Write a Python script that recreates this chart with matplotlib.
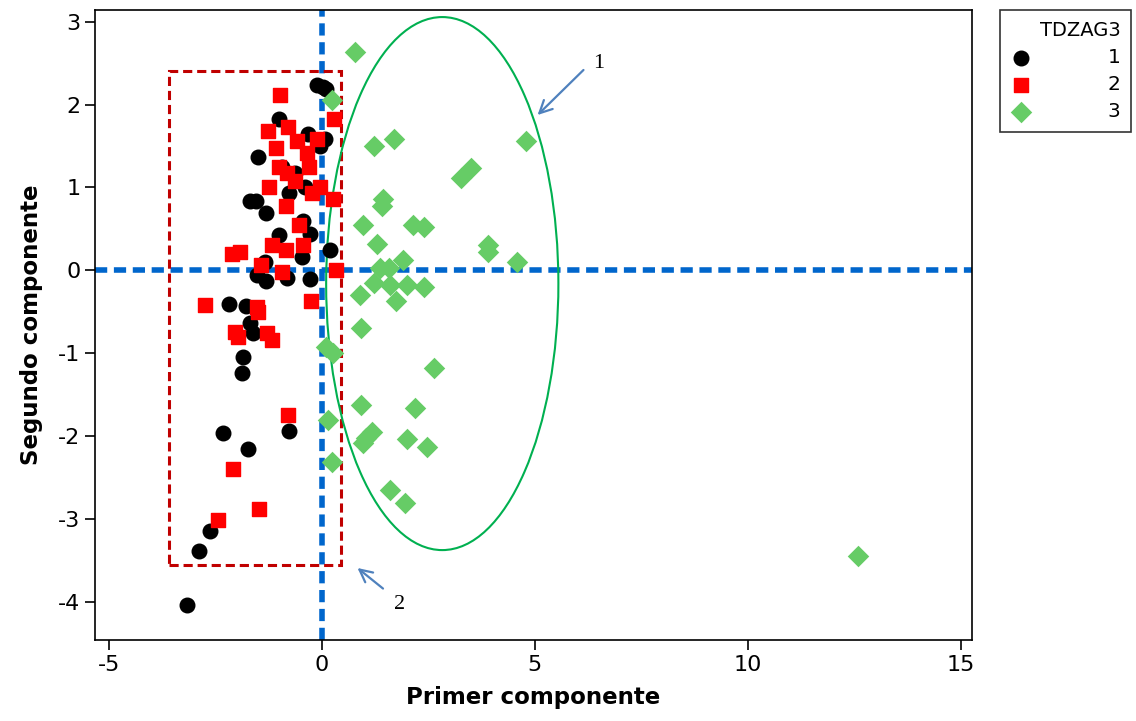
import matplotlib
matplotlib.use("Agg")
import matplotlib.pyplot as plt
from matplotlib.patches import Rectangle, Ellipse

plt.rcParams["axes.unicode_minus"] = False

# grupo 1 (circulos negros)
g1_x = [-0.12, 0.02, 0.10, -1.01, -0.31, 0.08, -0.04, -1.50, -0.93, -0.62, -0.39, -0.76,
        -1.68, -1.54, -1.30, -0.43, -0.27, -1.01, -0.46, 0.20, -1.33, -1.51, -1.30, -0.82,
        -0.27, -2.17, -1.78, -1.68, -1.60, -1.84, -1.87, -2.32, -0.76, -1.74, -2.62, -2.87, -3.15]
g1_y = [2.23, 2.21, 2.19, 1.82, 1.65, 1.58, 1.50, 1.37, 1.25, 1.17, 1.01, 0.93,
        0.84, 0.84, 0.69, 0.60, 0.44, 0.42, 0.16, 0.24, 0.10, -0.06, -0.13, -0.09,
        -0.10, -0.41, -0.43, -0.64, -0.76, -1.04, -1.24, -1.96, -1.94, -2.16, -3.14, -3.39, -4.04]

# grupo 2 (cuadrados rojos)
g2_x = [-0.97, 0.30, -1.25, -0.78, -0.58, -0.11, -1.07, -0.35, -0.29, -1.01, -0.82, -0.62,
        -1.23, -0.05, -0.23, 0.26, -0.83, -0.54, -1.17, -0.83, -0.44, -2.11, -1.91, -1.42,
        -0.93, 0.34, -0.25, -2.73, -1.51, -1.49, -2.03, -1.97, -1.29, -1.17, -0.78, -2.09,
        -1.46, -2.44]
g2_y = [2.11, 1.83, 1.68, 1.73, 1.56, 1.58, 1.48, 1.41, 1.25, 1.25, 1.17, 1.08,
        1.00, 1.00, 0.93, 0.86, 0.78, 0.55, 0.30, 0.25, 0.30, 0.20, 0.22, 0.07,
        -0.02, 0.00, -0.37, -0.42, -0.44, -0.50, -0.74, -0.80, -0.76, -0.84, -1.75, -2.40,
        -2.88, -3.01]

# grupo 3 (rombos verdes)
g3_x = [0.79, 0.24, 1.22, 1.70, 4.79, 3.51, 3.27, 1.45, 1.41, 0.98, 2.15, 2.39, 1.31,
        3.90, 3.90, 4.58, 1.90, 1.37, 1.57, 1.22, 1.61, 2.00, 2.39, 0.89, 1.75, 0.93,
        0.11, 0.26, 2.64, 0.93, 2.19, 0.14, 1.18, 0.98, 1.05, 2.00, 2.48, 0.24, 1.61,
        1.96, 12.59]
g3_y = [2.63, 2.06, 1.50, 1.58, 1.56, 1.23, 1.11, 0.86, 0.78, 0.55, 0.55, 0.52, 0.32,
        0.31, 0.22, 0.10, 0.13, 0.03, 0.03, -0.15, -0.18, -0.18, -0.20, -0.30, -0.37, -0.70,
        -0.93, -1.00, -1.18, -1.63, -1.66, -1.80, -1.95, -2.08, -2.02, -2.03, -2.13, -2.31, -2.65,
        -2.81, -3.45]

x_ticks = [-5, 0, 5, 10, 15]
y_ticks = [3, 2, 1, 0, -1, -2, -3, -4]

fig = plt.figure(figsize=(11.36, 7.21), dpi=100)
ax = fig.add_axes([0.0836, 0.1123, 0.772, 0.8738])

# lineas de referencia
ax.axvline(0, color="#0066CC", lw=4, ls=(0, (2.2, 1.2)), zorder=1)
ax.axhline(0, color="#0066CC", lw=4, ls=(0, (2.2, 1.2)), zorder=1)

ax.scatter(g1_x, g1_y, s=110, marker="o", color="black", label="1", zorder=3)
ax.scatter(g2_x, g2_y, s=100, marker="s", color="#FF0000", label="2", zorder=3)
ax.scatter(g3_x, g3_y, s=120, marker="D", color="#66CC66", label="3", zorder=3, linewidths=0)

# recuadro y elipse
ax.add_patch(Rectangle((-3.58, -3.56), 4.04, 5.96, fill=False, ec="#C00000",
                       lw=2.2, ls=(0, (3, 1.6)), zorder=2))
ax.add_patch(Ellipse((2.83, -0.16), 5.45, 6.43, fill=False, ec="#00B050", lw=1.5, zorder=2))

arrow_kw = dict(arrowstyle="->,head_length=0.9,head_width=0.45", color="#4F81BD", lw=1.6)
ax.annotate("", xy=(5.02, 1.85), xytext=(6.19, 2.44), arrowprops=arrow_kw)
ax.annotate("", xy=(0.79, -3.57), xytext=(1.49, -3.86), arrowprops=arrow_kw)
ax.text(6.49, 2.50, "1", family="Liberation Serif", fontsize=16, ha="center", va="center")
ax.text(1.82, -4.03, "2", family="Liberation Serif", fontsize=16, ha="center", va="center")

ax.set_xlim(-5.32, 15.26)
ax.set_ylim(-4.46, 3.14)
ax.set_xticks(x_ticks)
ax.set_yticks(y_ticks)
ax.tick_params(labelsize=16, length=7, width=1.2, direction="out")
for sp in ax.spines.values():
    sp.set_linewidth(1.2)

ax.set_xlabel("Primer componente", fontsize=16.5, fontweight="bold", labelpad=8)
ax.set_ylabel("Segundo componente", fontsize=16.5, fontweight="bold", labelpad=11)

leg = fig.legend(loc="upper left", bbox_to_anchor=(0.880, 0.986), borderaxespad=0,
                 title="TDZAG3", fontsize=14.5, title_fontsize=14, frameon=True,
                 fancybox=False, edgecolor="black", handletextpad=3.8, borderpad=0.55,
                 labelspacing=0.4, alignment="right", handlelength=1.0)
leg.get_frame().set_linewidth(1.2)

fig.savefig("out.png", dpi=100)
